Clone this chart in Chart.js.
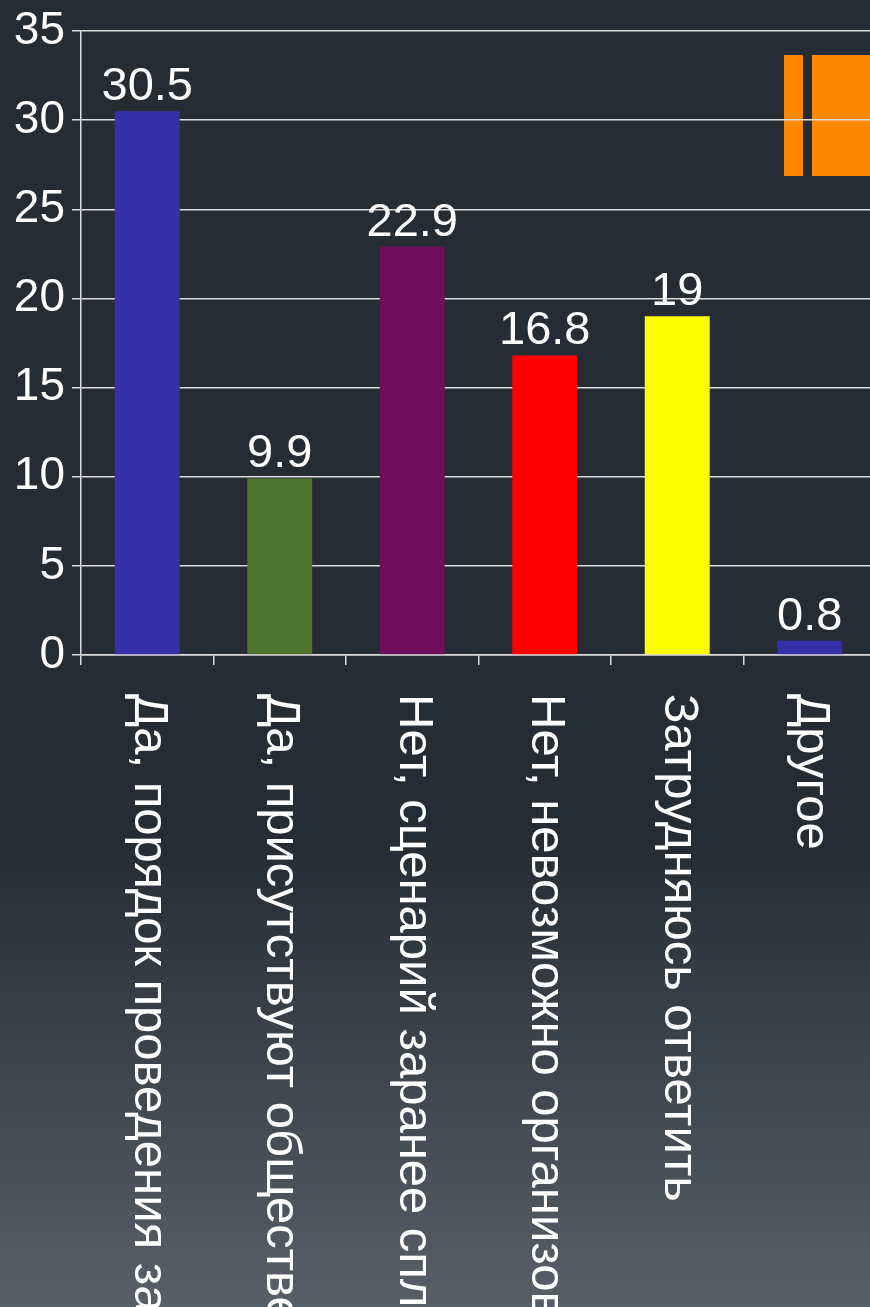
<!DOCTYPE html>
<html>
<head>
<meta charset="utf-8">
<script src="https://cdn.jsdelivr.net/npm/chart.js@4"></script>
<style>
    html, body {
        margin: 0;
        padding: 0;
        overflow: hidden;
        width: 870px;
        height: 1307px;
        background: linear-gradient(to bottom, #262c33 0px, #262c33 840px, #585f69 1307px);
    }
    #wrap {
        position: absolute;
        left: 0;
        top: 0;
        width: 876px;
        height: 1307px;
    }
</style>
</head>
<body>
<div id="wrap"><canvas id="survey-chart"></canvas></div>
<script>
// --- Chart data ---
const categories = [
    'Да, порядок проведения заранее известен',
    'Да, присутствуют общественные наблюдатели',
    'Нет, сценарий заранее спланирован',
    'Нет, невозможно организоваться',
    'Затрудняюсь ответить',
    'Другое'
];
const percentValues = [30.5, 9.9, 22.9, 16.8, 19, 0.8];
const valueLabels = ['30.5', '9.9', '22.9', '16.8', '19', '0.8'];
const barColors = ['#3430aa', '#507530', '#6f0f5b', '#ff0000', '#ffff00', '#3430aa'];
const yTicks = [0, 5, 10, 15, 20, 25, 30, 35];

const FONT = '"Liberation Sans", Arial, sans-serif';

// Orange slide decoration, drawn behind the grid lines
const decorPlugin = {
    id: 'decor',
    beforeDraw(chart) {
        const ctx = chart.ctx;
        ctx.save();
        ctx.fillStyle = '#ff8800';
        ctx.fillRect(784, 55, 19, 121);
        ctx.fillRect(812, 55, 70, 121);
        ctx.restore();
    }
};

// Numbers above the bars
const valueLabelPlugin = {
    id: 'valueLabels',
    afterDatasetsDraw(chart) {
        const ctx = chart.ctx;
        const meta = chart.getDatasetMeta(0);
        ctx.save();
        ctx.fillStyle = '#ffffff';
        ctx.font = '47px ' + FONT;
        ctx.textAlign = 'center';
        ctx.textBaseline = 'alphabetic';
        meta.data.forEach((bar, i) => {
            ctx.fillText(valueLabels[i], bar.x, bar.y - 11);
        });
        ctx.restore();
    }
};

// Category names, rotated to read top to bottom
const categoryLabelPlugin = {
    id: 'categoryLabels',
    afterDraw(chart) {
        const ctx = chart.ctx;
        const xScale = chart.scales.x;
        ctx.save();
        ctx.fillStyle = '#ffffff';
        ctx.font = '49px ' + FONT;
        ctx.textAlign = 'left';
        ctx.textBaseline = 'middle';
        categories.forEach((label, i) => {
            const x = xScale.getPixelForValue(i);
            ctx.save();
            ctx.translate(x + 1, chart.chartArea.bottom + 39);
            ctx.rotate(Math.PI / 2);
            ctx.fillText(label, 0, 0);
            ctx.restore();
        });
        ctx.restore();
    }
};

const ctx = document.getElementById('survey-chart').getContext('2d');
new Chart(ctx, {
    type: 'bar',
    data: {
        labels: categories,
        datasets: [{
            data: percentValues,
            backgroundColor: barColors,
            borderWidth: 0,
            barPercentage: 0.49,
            categoryPercentage: 1.0
        }]
    },
    options: {
        responsive: true,
        maintainAspectRatio: false,
        animation: false,
        layout: {
            padding: { top: 31, right: 0, bottom: 0, left: 0 }
        },
        plugins: {
            legend: { display: false },
            tooltip: { enabled: false }
        },
        scales: {
            x: {
                grid: {
                    display: true,
                    drawOnChartArea: false,
                    drawTicks: true,
                    tickLength: 10,
                    color: '#dcdcdc',
                    lineWidth: 1.5
                },
                border: { display: true, color: '#dcdcdc', width: 1.5 },
                ticks: { display: false },
                afterFit(scale) {
                    scale.height = 652;
                }
            },
            y: {
                min: 0,
                max: 35,
                afterBuildTicks(scale) {
                    scale.ticks = yTicks.map(v => ({ value: v }));
                },
                grid: {
                    color: '#dcdcdc',
                    lineWidth: 1.5,
                    tickLength: 9
                },
                border: { display: true, color: '#dcdcdc', width: 1.5 },
                ticks: {
                    color: '#ffffff',
                    padding: 7,
                    font: { family: FONT, size: 46, lineHeight: 1 }
                },
                afterFit(scale) {
                    scale.width = 81;
                }
            }
        }
    },
    plugins: [decorPlugin, valueLabelPlugin, categoryLabelPlugin]
});
</script>
</body>
</html>
